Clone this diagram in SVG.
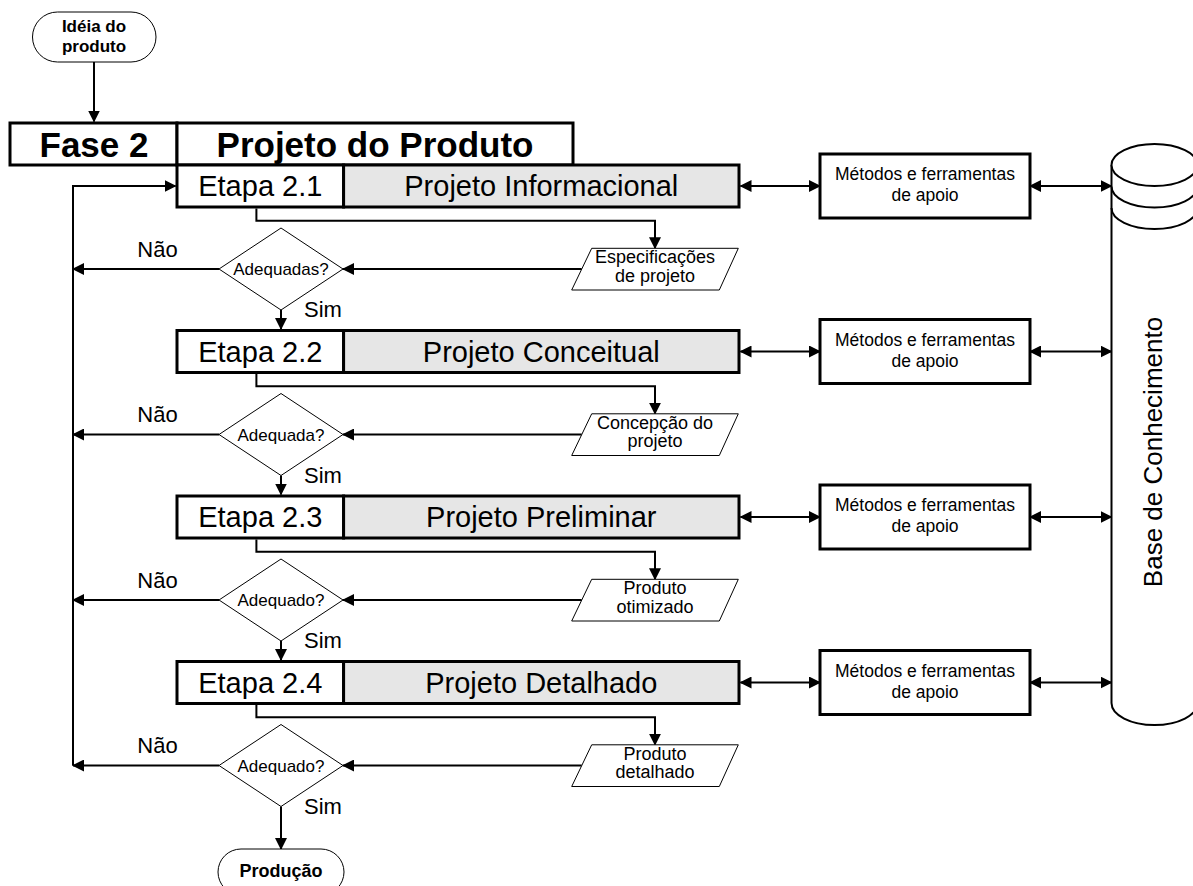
<svg xmlns="http://www.w3.org/2000/svg" width="1193" height="886" viewBox="0 0 1193 886">
<defs>
<marker id="ah" viewBox="0 0 12 12" refX="11" refY="6" markerWidth="12" markerHeight="12" markerUnits="userSpaceOnUse" orient="auto-start-reverse"><path d="M0,0 L12,6 L0,12 z" fill="#000"/></marker>
<style>
text{font-family:"Liberation Sans",Arial,sans-serif;fill:#000;text-anchor:middle}
.big{font-size:35px;font-weight:bold}
.et{font-size:29px}
.md{font-size:17.5px}
.pa{font-size:18px}
.dq{font-size:17px}
.lb{font-size:22px}
.term{font-size:17px;font-weight:bold}
.box{fill:#fff;stroke:#000;stroke-width:3}
.gray{fill:#e6e6e6;stroke:#000;stroke-width:3}
.thin{fill:#fff;stroke:#000;stroke-width:1}
.cyl{fill:#fff;stroke:#000;stroke-width:2}
.c{fill:none;stroke:#000;stroke-width:2}
.a{marker-end:url(#ah)}
.d{marker-start:url(#ah);marker-end:url(#ah)}
</style>
</defs>

<g id="connectors">
<path class="c a" d="M94,62 V121.5"/>
<path class="c a" d="M73,765.5 V186 H175.5"/>
<!-- row 1 -->
<path class="c a" d="M256.4,208.5 V220.7 H655 V248.3"/>
<path class="c a" d="M581.7,269 H343"/>
<path class="c a" d="M219,269 H73"/>
<path class="c a" d="M281,310 V329"/>
<path class="c d" d="M740.5,186 H820"/>
<path class="c d" d="M1030,186 H1111.5"/>
<!-- row 2 -->
<path class="c a" d="M256.4,374 V386.2 H655 V413.8"/>
<path class="c a" d="M581.7,434.5 H343"/>
<path class="c a" d="M219,434.5 H73"/>
<path class="c a" d="M281,475.5 V494.5"/>
<path class="c d" d="M740.5,351.5 H820"/>
<path class="c d" d="M1030,351.5 H1111.5"/>
<!-- row 3 -->
<path class="c a" d="M256.4,539.5 V551.7 H655 V579.3"/>
<path class="c a" d="M581.7,600 H343"/>
<path class="c a" d="M219,600 H73"/>
<path class="c a" d="M281,641 V660"/>
<path class="c d" d="M740.5,517 H820"/>
<path class="c d" d="M1030,517 H1111.5"/>
<!-- row 4 -->
<path class="c a" d="M256.4,705 V717.2 H655 V744.8"/>
<path class="c a" d="M581.7,765.5 H343"/>
<path class="c a" d="M219,765.5 H73"/>
<path class="c a" d="M281,806.5 V849"/>
<path class="c d" d="M740.5,682.5 H820"/>
<path class="c d" d="M1030,682.5 H1111.5"/>
</g>

<g id="ideia">
<rect x="32.5" y="12" width="123.5" height="50" rx="25" class="thin"/>
<text class="term" x="94" y="31.7">Idéia do</text>
<text class="term" x="94" y="51.7">produto</text>
</g>

<g id="fase2">
<rect x="10" y="123" width="167" height="42" class="box"/>
<text class="big" x="94" y="156.5">Fase 2</text>
</g>
<g id="projeto-produto">
<rect x="177" y="123" width="396" height="42" class="box"/>
<text class="big" x="375" y="156.5">Projeto do Produto</text>
</g>

<g id="etapa21">
<rect x="177" y="165" width="166.6" height="42" class="box"/>
<rect x="343.6" y="165" width="395.4" height="42" class="gray"/>
<text class="et" x="260.3" y="196.4">Etapa 2.1</text>
<text class="et" x="541.3" y="196.4">Projeto Informacional</text>
</g>
<g id="etapa22">
<rect x="177" y="330.5" width="166.6" height="42" class="box"/>
<rect x="343.6" y="330.5" width="395.4" height="42" class="gray"/>
<text class="et" x="260.3" y="361.9">Etapa 2.2</text>
<text class="et" x="541.3" y="361.9">Projeto Conceitual</text>
</g>
<g id="etapa23">
<rect x="177" y="496" width="166.6" height="42" class="box"/>
<rect x="343.6" y="496" width="395.4" height="42" class="gray"/>
<text class="et" x="260.3" y="527.4">Etapa 2.3</text>
<text class="et" x="541.3" y="527.4">Projeto Preliminar</text>
</g>
<g id="etapa24">
<rect x="177" y="661.5" width="166.6" height="42" class="box"/>
<rect x="343.6" y="661.5" width="395.4" height="42" class="gray"/>
<text class="et" x="260.3" y="692.9">Etapa 2.4</text>
<text class="et" x="541.3" y="692.9">Projeto Detalhado</text>
</g>

<g id="metodos1">
<rect x="820" y="154" width="210" height="64" class="box"/>
<text class="md" x="925" y="180">Métodos e ferramentas</text>
<text class="md" x="925" y="201">de apoio</text>
</g>
<g id="metodos2">
<rect x="820" y="319.5" width="210" height="64" class="box"/>
<text class="md" x="925" y="345.5">Métodos e ferramentas</text>
<text class="md" x="925" y="366.5">de apoio</text>
</g>
<g id="metodos3">
<rect x="820" y="485" width="210" height="64" class="box"/>
<text class="md" x="925" y="511">Métodos e ferramentas</text>
<text class="md" x="925" y="532">de apoio</text>
</g>
<g id="metodos4">
<rect x="820" y="650.5" width="210" height="64" class="box"/>
<text class="md" x="925" y="676.5">Métodos e ferramentas</text>
<text class="md" x="925" y="697.5">de apoio</text>
</g>

<g id="saida1">
<polygon points="591.7,248.3 738.3,248.3 719.3,290 571.7,290" class="thin"/>
<text class="pa" x="655" y="263.3">Especificações</text>
<text class="pa" x="655" y="281.5">de projeto</text>
</g>
<g id="saida2">
<polygon points="591.7,413.8 738.3,413.8 719.3,455.5 571.7,455.5" class="thin"/>
<text class="pa" x="655" y="428.8">Concepção do</text>
<text class="pa" x="655" y="447">projeto</text>
</g>
<g id="saida3">
<polygon points="591.7,579.3 738.3,579.3 719.3,621 571.7,621" class="thin"/>
<text class="pa" x="655" y="594.3">Produto</text>
<text class="pa" x="655" y="612.5">otimizado</text>
</g>
<g id="saida4">
<polygon points="591.7,744.8 738.3,744.8 719.3,786.5 571.7,786.5" class="thin"/>
<text class="pa" x="655" y="759.8">Produto</text>
<text class="pa" x="655" y="778">detalhado</text>
</g>

<g id="decisao1">
<polygon points="281,228 343,269 281,310 219,269" class="thin"/>
<text class="dq" x="281" y="275">Adequadas?</text>
<text class="lb" x="157.5" y="256.5">Não</text>
<text class="lb" x="323" y="317">Sim</text>
</g>
<g id="decisao2">
<polygon points="281,393.5 343,434.5 281,475.5 219,434.5" class="thin"/>
<text class="dq" x="281" y="440.5">Adequada?</text>
<text class="lb" x="157.5" y="422">Não</text>
<text class="lb" x="323" y="482.5">Sim</text>
</g>
<g id="decisao3">
<polygon points="281,559 343,600 281,641 219,600" class="thin"/>
<text class="dq" x="281" y="606">Adequado?</text>
<text class="lb" x="157.5" y="587.5">Não</text>
<text class="lb" x="323" y="648">Sim</text>
</g>
<g id="decisao4">
<polygon points="281,724.5 343,765.5 281,806.5 219,765.5" class="thin"/>
<text class="dq" x="281" y="771.5">Adequado?</text>
<text class="lb" x="157.5" y="753">Não</text>
<text class="lb" x="323" y="813.5">Sim</text>
</g>

<g id="producao">
<rect x="218" y="849" width="126" height="46" rx="23" class="thin"/>
<text class="term" x="281" y="877" style="font-size:18px">Produção</text>
</g>

<g id="base-conhecimento">
<path class="cyl" d="M1111.5,165 V703 A43,22 0 0 0 1197.5,703 V165"/>
<ellipse cx="1154.5" cy="165" rx="43" ry="21" class="cyl"/>
<path class="c" d="M1111.5,186.5 A43,21 0 0 0 1197.5,186.5"/>
<path class="c" d="M1111.5,208 A43,21 0 0 0 1197.5,208"/>
<text transform="translate(1162,452) rotate(-90)" style="font-size:26px">Base de Conhecimento</text>
</g>
</svg>
